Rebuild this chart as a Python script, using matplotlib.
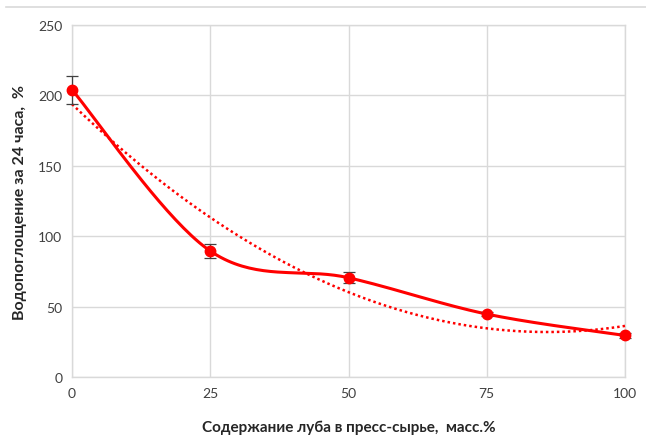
import numpy as np
import matplotlib.pyplot as plt
from matplotlib.lines import Line2D

# data
luba = [0, 25, 50, 75, 100]
water = [204, 89.5, 70.5, 44.7, 29.5]
err = [10, 5, 4, 1.5, 1.5]

xticks = [0, 25, 50, 75, 100]
yticks = [0, 50, 100, 150, 200, 250]

RED = "#FF0000"
GRID = "#D9D9D9"
TXT = "#404040"


def smooth_curve(x, y, n=40):
    """Excel-like smoothed line: cubic Bezier segments, Catmull-Rom tangents."""
    x = np.asarray(x, float)
    y = np.asarray(y, float)
    px = np.concatenate([[x[0]], x, [x[-1]]])
    py = np.concatenate([[y[0]], y, [y[-1]]])
    xs, ys = [], []
    t = np.linspace(0, 1, n)
    for i in range(len(x) - 1):
        p0 = np.array([x[i], y[i]])
        p3 = np.array([x[i + 1], y[i + 1]])
        p1 = p0 + (np.array([px[i + 2], py[i + 2]]) - np.array([px[i], py[i]])) / 6
        p2 = p3 - (np.array([px[i + 3], py[i + 3]]) - np.array([px[i + 1], py[i + 1]])) / 6
        b = ((1 - t) ** 3)[:, None] * p0 + (3 * (1 - t) ** 2 * t)[:, None] * p1 \
            + (3 * (1 - t) * t ** 2)[:, None] * p2 + (t ** 3)[:, None] * p3
        xs.extend(b[:, 0])
        ys.extend(b[:, 1])
    return np.array(xs), np.array(ys)


plt.rcParams['font.family'] = ['Lato', 'DejaVu Sans']

fig = plt.figure(figsize=(6.46, 4.39), dpi=100)
ax = fig.add_axes([72 / 646, 1 - 378 / 439, 553 / 646, 352 / 439])

# polynomial trendline (order 2)
coef = np.polyfit(luba, water, 2)
xt = np.linspace(0, 100, 200)
ax.plot(xt, np.polyval(coef, xt), color=RED, lw=1.8, ls=(0, (1, 1.2)), zorder=3,
        clip_on=False)

sx, sy = smooth_curve(luba, water)
ax.plot(sx, sy, color=RED, lw=2.2, zorder=4, solid_capstyle="round", clip_on=False)
eb = ax.errorbar(luba, water, yerr=err, fmt="none", ecolor="#404040", elinewidth=0.9,
                 capsize=4, capthick=0.9, zorder=5)
for art in eb.lines[1] + eb.lines[2]:
    art.set_clip_on(False)
ax.plot(luba, water, "o", color=RED, ms=7.5, zorder=6, clip_on=False)

ax.set_xlim(0, 100)
ax.set_ylim(0, 250)
ax.set_xticks(xticks)
ax.set_yticks(yticks)
ax.grid(True, color=GRID, lw=1)
ax.set_axisbelow(True)
for s in ax.spines.values():
    s.set_color(GRID)
    s.set_linewidth(1)
ax.tick_params(length=0, labelsize=10, colors=TXT, pad=7)

ax.set_ylabel("Водопоглощение за 24 часа,  %", fontsize=11.5, fontweight="bold",
              color="#262626", va="center")
ax.yaxis.set_label_coords(-0.094, 0.5)
ax.set_xlabel("Содержание луба в пресс-сырье,  масс.%", fontsize=11, fontweight="bold",
              color="#262626", va="center")
ax.xaxis.set_label_coords(0.5, -0.142)

# outer chart frame (top edge visible)
fig.add_artist(Line2D([6 / 646, 1], [1 - 8 / 439, 1 - 8 / 439], color=GRID, lw=1.2))

fig.savefig("out.png", dpi=100)
